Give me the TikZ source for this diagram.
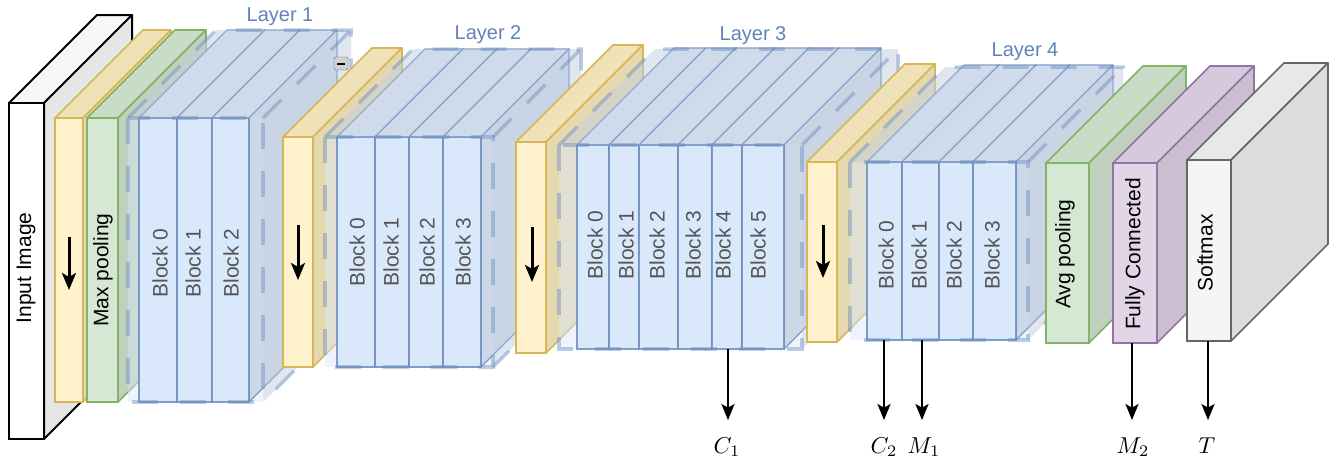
\documentclass[tikz,border=0pt]{standalone}
\usepackage{graphicx}
\usepackage{fontspec}
\setmainfont{Liberation Sans}
\usetikzlibrary{arrows.meta}
\definecolor{blkfront}{HTML}{DAE8FC}
\definecolor{blktop}{HTML}{D4E0F0}
\definecolor{blkside}{HTML}{CCD7E8}
\definecolor{contshade}{HTML}{C4CFE1}
\definecolor{blkstroke}{HTML}{6C8EBF}
\definecolor{yelfront}{HTML}{FFF2CC}
\definecolor{yeltop}{HTML}{F0E2B8}
\definecolor{yelside}{HTML}{E6D8AE}
\definecolor{yelstroke}{HTML}{D6B656}
\definecolor{grnfront}{HTML}{D5E8D4}
\definecolor{grntop}{HTML}{C9DCC8}
\definecolor{grnside}{HTML}{BFD1BE}
\definecolor{grnstroke}{HTML}{82B366}
\definecolor{purfront}{HTML}{E1D5E7}
\definecolor{purtop}{HTML}{D5C9DB}
\definecolor{purside}{HTML}{CABED0}
\definecolor{purstroke}{HTML}{9673A6}
\definecolor{gryfront}{HTML}{F5F5F5}
\definecolor{grytop}{HTML}{E8E8E8}
\definecolor{gryside}{HTML}{DCDCDC}
\definecolor{grystroke}{HTML}{666666}
\definecolor{inptop}{HTML}{F7F7F7}
\definecolor{inpside}{HTML}{E6E6E6}
\definecolor{blocktext}{HTML}{555555}
\definecolor{layertext}{HTML}{6283B8}

% #1 x, #2 y (top-left of front face), #3 w, #4 h, #5 depth, #6 front, #7 top, #8 side, #9 stroke options
\newcommand\drawcube[9]{%
  \filldraw[#9, fill=#7, line join=round] (#1,#2) -- ++(#5,-#5) -- ++(#3,0) -- ++(-#5,#5) -- cycle;
  \filldraw[#9, fill=#8, line join=round] ({#1+#3},#2) -- ++(#5,-#5) -- ++(0,#4) -- ++(-#5,#5) -- cycle;
  \filldraw[#9, fill=#6] (#1,#2) rectangle ++(#3,#4);
}
% translucent container fill
\newcommand\contfill[5]{%
  \fill[conttop] (#1,#2) -- ++(#5,-#5) -- ++(#3,0) -- ++(-#5,#5) -- cycle;
  \fill[conttop] ({#1+#3},#2) -- ++(#5,-#5) -- ++(0,#4) -- ++(-#5,#5) -- cycle;
  \fill[contfront] (#1,#2) rectangle ++(#3,#4);
}
% translucent container overlay on top and side
\newcommand\contover[5]{%
  \fill[contover] (#1,#2) -- ++(#5,-#5) -- ++(#3,0) -- ++(-#5,#5) -- cycle;
  \fill[contover] ({#1+#3},#2) -- ++(#5,-#5) -- ++(0,#4) -- ++(-#5,#5) -- cycle;
}
% dashed container outline
\newcommand\contdash[5]{%
  \draw[contdash] (#1,#2) rectangle ++(#3,#4);
  \draw[contdash] (#1,#2) -- ++(#5,-#5) -- ++(#3,0) -- ++(0,#4) -- ++(-#5,#5);
  \draw[contdash] ({#1+#3},#2) -- ++(#5,-#5);
}
\newcommand\blockcube[4]{\drawcube{#1}{#2}{#3}{#4}{\blkd}{blkfront}{blktop}{blkside}{blkline}}
\newcommand\bigmath[1]{\scalebox{2.3}{$#1$}}

\begin{document}
\begin{tikzpicture}[x=1pt,y=-1pt,
  blkline/.style={draw=blkstroke, draw opacity=0.85, line width=1.2},
  yelline/.style={draw=yelstroke, line width=1.6},
  grnline/.style={draw=grnstroke, line width=1.6},
  purline/.style={draw=purstroke, line width=1.6},
  gryline/.style={draw=grystroke, line width=1.6},
  contfront/.style={fill=blkfront, fill opacity=0.45},
  conttop/.style={fill=contshade, fill opacity=0.3},
  contover/.style={fill=contshade, fill opacity=0.3},
  contdash/.style={draw=blkstroke, draw opacity=0.45, line width=3.5, dash pattern=on 26pt off 22pt},
  vlabel/.style={rotate=90, font=\fontsize{21}{21}\selectfont, inner sep=0},
  blocklabel/.style={vlabel, text=blocktext},
  layerlabel/.style={font=\fontsize{20}{20}\selectfont, text=layertext, inner sep=0},
  mathlabel/.style={inner sep=0, anchor=base},
  dnarrow/.style={line width=3, -{Stealth[length=17pt,width=14pt,inset=4pt]}},
  outarrow/.style={line width=2, -{Stealth[length=16pt,width=13pt,inset=3.5pt]}, shorten >=17pt},
]
\useasboundingbox (0,0) rectangle (1330,459);
\fill[white] (0,0) rectangle (1330,459);

% Input image
\drawcube{9}{103}{35}{336}{88}{white}{inptop}{inpside}{draw=black,line width=2}
\node[vlabel] (inp) at (26,268) {Input Image};

% downsample 1
\drawcube{55}{118}{28}{284}{88}{yelfront}{yeltop}{yelside}{yelline}
\coordinate (y1a) at (69,237); \coordinate (y1b) at (69,290);
\draw[dnarrow] (y1a) -- (y1b);

% max pooling
\drawcube{87}{118}{31}{284}{88}{grnfront}{grntop}{grnside}{grnline}
\node[vlabel] (maxp) at (103,270) {Max pooling};

% Layer 1
\def\blkd{88}
\contfill{128}{118}{135}{284}{88}
\blockcube{139}{118}{38}{284}
\blockcube{177}{118}{35}{284}
\blockcube{212}{118}{37}{284}
\contover{128}{118}{135}{284}{88}
\node[blocklabel] (l1b0) at (160,263) {Block 0};
\node[blocklabel] (l1b1) at (193,263) {Block 1};
\node[blocklabel] (l1b2) at (231,263) {Block 2};
\contdash{128}{118}{135}{284}{88}
\node[layerlabel] (layer1) at (280,17) {Layer 1};
\node[draw=gray!80!black, fill=gray!35, rounded corners=1.5pt, minimum width=14pt, minimum height=13pt, inner sep=0] (collapse) at (341,63.5) {};
\draw[line width=2] ([xshift=-4pt]collapse.center) -- ([xshift=4pt]collapse.center);

% downsample 2
\drawcube{283}{137}{30}{230}{89}{yelfront}{yeltop}{yelside}{yelline}
\coordinate (y2a) at (298,225); \coordinate (y2b) at (298,280);
\draw[dnarrow] (y2a) -- (y2b);

% Layer 2
\def\blkd{88}
\contfill{325}{137}{168}{230}{88}
\blockcube{337}{137}{38}{230}
\blockcube{375}{137}{34}{230}
\blockcube{409}{137}{34}{230}
\blockcube{443}{137}{38}{230}
\contover{325}{137}{168}{230}{88}
\node[blocklabel] (l2b0) at (357,252) {Block 0};
\node[blocklabel] (l2b1) at (391,252) {Block 1};
\node[blocklabel] (l2b2) at (427,252) {Block 2};
\node[blocklabel] (l2b3) at (463,252) {Block 3};
\contdash{325}{137}{168}{230}{88}
\node[layerlabel] (layer2) at (488,35) {Layer 2};

% downsample 3
\drawcube{516}{142}{30}{211}{97}{yelfront}{yeltop}{yelside}{yelline}
\coordinate (y3a) at (532,227); \coordinate (y3b) at (532,282);
\draw[dnarrow] (y3a) -- (y3b);

% Layer 3
\def\blkd{97}
\contfill{559}{145}{243}{204}{96}
\blockcube{577}{145}{32}{204}
\blockcube{609}{145}{30}{204}
\blockcube{639}{145}{39}{204}
\blockcube{678}{145}{34}{204}
\blockcube{712}{145}{30}{204}
\blockcube{742}{145}{42}{204}
\contover{559}{145}{243}{204}{96}
\node[blocklabel] (l3b0) at (595,245) {Block 0};
\node[blocklabel] (l3b1) at (626,245) {Block 1};
\node[blocklabel] (l3b2) at (657,245) {Block 2};
\node[blocklabel] (l3b3) at (693,245) {Block 3};
\node[blocklabel] (l3b4) at (723,245) {Block 4};
\node[blocklabel] (l3b5) at (758,245) {Block 5};
\contdash{559}{145}{243}{204}{96}
\node[layerlabel] (layer3) at (753,36) {Layer 3};

% downsample 4
\drawcube{807}{162}{30}{180}{98}{yelfront}{yeltop}{yelside}{yelline}
\coordinate (y4a) at (823,225); \coordinate (y4b) at (823,278);
\draw[dnarrow] (y4a) -- (y4b);

% Layer 4
\def\blkd{97}
\contfill{850}{162}{178}{178}{95}
\blockcube{867}{162}{35}{178}
\blockcube{902}{162}{37}{178}
\blockcube{939}{162}{34}{178}
\blockcube{973}{162}{43}{178}
\contover{850}{162}{178}{178}{95}
\node[blocklabel] (l4b0) at (886,255) {Block 0};
\node[blocklabel] (l4b1) at (919,255) {Block 1};
\node[blocklabel] (l4b2) at (954,255) {Block 2};
\node[blocklabel] (l4b3) at (992,255) {Block 3};
\contdash{850}{162}{178}{178}{95}
\node[layerlabel] (layer4) at (1025,52) {Layer 4};

% head
\drawcube{1046}{163}{43}{180}{97}{grnfront}{grntop}{grnside}{grnline}
\node[vlabel] (avgp) at (1065,254) {Avg pooling};
\drawcube{1113}{163}{44}{180}{97}{purfront}{purtop}{purside}{purline}
\node[vlabel] (fc) at (1135,254) {Fully Connected};
\drawcube{1187}{160}{44}{181}{97}{gryfront}{grytop}{gryside}{gryline}
\node[vlabel] (smax) at (1205,253) {Softmax};

% outputs
\node[mathlabel] (C1) at (727,453) {\bigmath{C_1}};
\node[mathlabel] (C2) at (884,453) {\bigmath{C_2}};
\node[mathlabel] (M1) at (924,453) {\bigmath{M_1}};
\node[mathlabel] (M2) at (1133,453) {\bigmath{M_2}};
\node[mathlabel] (T) at (1207,453) {\bigmath{T}};
\coordinate (c1s) at (728,349);
\coordinate (c2s) at (884,340);
\coordinate (m1s) at (922,340);
\coordinate (m2s) at (1132,343);
\coordinate (ts) at (1208,341);
\draw[outarrow] (c1s) -- (c1s |- C1.north);
\draw[outarrow] (c2s) -- (c2s |- C2.north);
\draw[outarrow] (m1s) -- (m1s |- M1.north);
\draw[outarrow] (m2s) -- (m2s |- M2.north);
\draw[outarrow] (ts) -- (ts |- T.north);
\end{tikzpicture}
\end{document}
